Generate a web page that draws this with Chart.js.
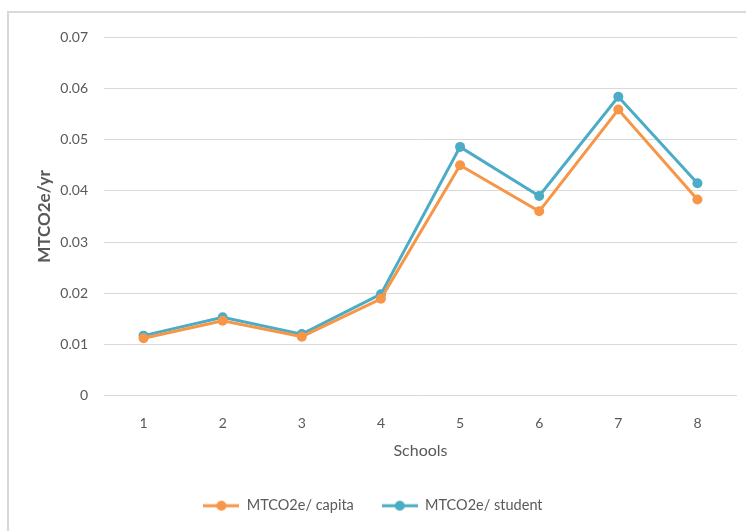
<!DOCTYPE html>
<html>
<head>
<meta charset="utf-8">
<script src="https://cdn.jsdelivr.net/npm/chart.js@4.4.1/dist/chart.umd.min.js"></script>
<style>
  body { margin: 0; background: #fff; overflow: hidden; }
  .frame {
    position: absolute; left: 7px; top: 11px;
    border-left: 2px solid #d9d9d9; border-top: 2px solid #d9d9d9;
  }
  canvas { display: block; }
</style>
</head>
<body>
<div class="frame">
  <canvas id="emissions" width="737" height="518"></canvas>
</div>
<script>
const schools = ["1", "2", "3", "4", "5", "6", "7", "8"];
const perCapita = [0.0112, 0.0146, 0.0115, 0.0189, 0.0450, 0.0360, 0.0559, 0.0383];
const perStudent = [0.0117, 0.0153, 0.0120, 0.0198, 0.0486, 0.0390, 0.0584, 0.0415];
const yTicks = [0, 0.01, 0.02, 0.03, 0.04, 0.05, 0.06, 0.07];

const ORANGE = "#F79646";
const BLUE = "#4BACC6";
const TEXT = "#595959";
const FONT = "Lato";

// little line-with-dot icon used in the legend
function legendIcon(color) {
  const c = document.createElement("canvas");
  c.width = 36;
  c.height = 12;
  const g = c.getContext("2d");
  g.strokeStyle = color;
  g.lineWidth = 3;
  g.beginPath();
  g.moveTo(0, 6);
  g.lineTo(36, 6);
  g.stroke();
  g.fillStyle = color;
  g.beginPath();
  g.arc(18, 6, 5, 0, Math.PI * 2);
  g.fill();
  return c;
}

const ctx = document.getElementById("emissions").getContext("2d");

new Chart(ctx, {
  type: "line",
  data: {
    labels: schools,
    datasets: [
      {
        label: "MTCO2e/ capita",
        data: perCapita,
        borderColor: ORANGE,
        backgroundColor: ORANGE,
        borderWidth: 3,
        pointRadius: 5,
        pointHoverRadius: 5,
        pointBorderWidth: 0,
        pointStyle: "circle",
        tension: 0,
      },
      {
        label: "MTCO2e/ student",
        data: perStudent,
        borderColor: BLUE,
        backgroundColor: BLUE,
        borderWidth: 3,
        pointRadius: 5,
        pointHoverRadius: 5,
        pointBorderWidth: 0,
        pointStyle: "circle",
        tension: 0,
      },
    ],
  },
  options: {
    responsive: false,
    animation: false,
    layout: { padding: { top: 21, right: 9, left: 0, bottom: 8 } },
    plugins: {
      tooltip: { enabled: false },
      legend: {
        position: "bottom",
        labels: {
          usePointStyle: true,
          pointStyleWidth: 36,
          padding: 28,
          color: TEXT,
          font: { family: FONT, size: 14.5 },
          generateLabels: (chart) =>
            chart.data.datasets.map((ds, i) => ({
              text: ds.label,
              fillStyle: ds.borderColor,
              strokeStyle: ds.borderColor,
              fontColor: TEXT,
              lineWidth: 0,
              pointStyle: legendIcon(ds.borderColor),
              datasetIndex: i,
            })),
        },
      },
    },
    scales: {
      x: {
        offset: true,
        grid: { display: false, drawTicks: false },
        border: { display: false },
        ticks: { color: TEXT, font: { family: FONT, size: 14 }, padding: 20 },
        title: {
          display: true,
          text: "Schools",
          color: TEXT,
          font: { family: FONT, size: 16 },
          padding: { top: 0, bottom: 10 },
        },
        afterFit: (scale) => { scale.height = 75; },
      },
      y: {
        min: 0,
        max: 0.07,
        afterBuildTicks: (scale) => { scale.ticks = yTicks.map((v) => ({ value: v })); },
        grid: { color: "#d9d9d9", lineWidth: 1, drawTicks: false },
        border: { display: false },
        ticks: {
          color: TEXT,
          font: { family: FONT, size: 14 },
          padding: 16,
          callback: (v) => (v === 0 ? "0" : v.toFixed(2)),
        },
        title: {
          display: true,
          text: "MTCO2e/yr",
          color: TEXT,
          font: { family: FONT, size: 17, weight: "bold" },
          padding: { top: 25, bottom: 0 },
        },
        afterFit: (scale) => { scale.width = 95; },
      },
    },
  },
});
</script>
</body>
</html>
